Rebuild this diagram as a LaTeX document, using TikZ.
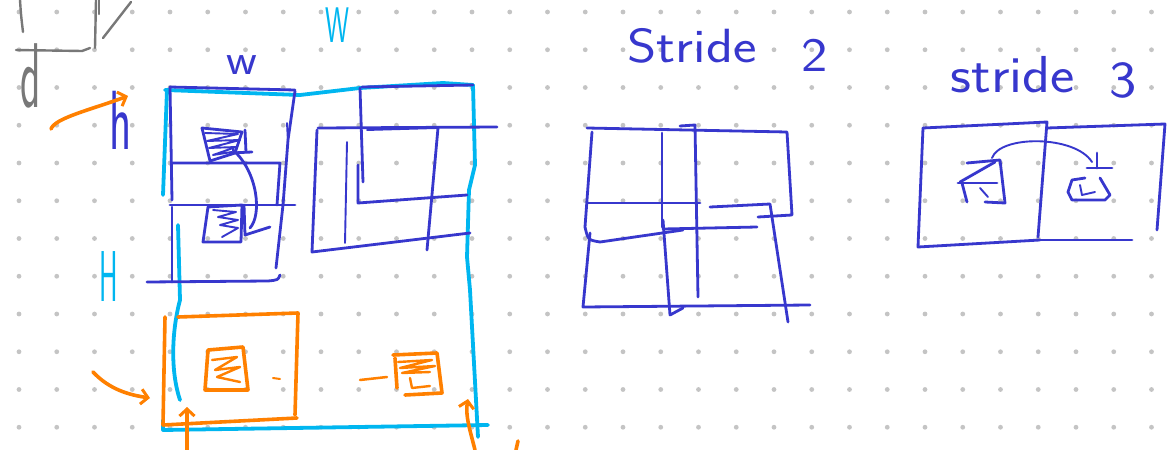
\documentclass[tikz,border=0pt]{standalone}
\usetikzlibrary{arrows.meta}
\definecolor{bl}{RGB}{55,55,205}
\definecolor{cy}{RGB}{0,182,240}
\definecolor{orc}{RGB}{255,128,0}
\definecolor{grc}{RGB}{120,120,120}
\definecolor{dotc}{RGB}{196,196,196}
\begin{document}
\begin{tikzpicture}[x=1pt,y=-1pt,
  blu/.style={draw=bl,line width=2.8pt,line cap=round,line join=round},
  thinb/.style={draw=bl,line width=1.9pt,line cap=round,line join=round},
  cyl/.style={draw=cy,line width=3.8pt,line cap=round,line join=round},
  orl/.style={draw=orc,line width=3.6pt,line cap=round,line join=round},
  grl/.style={draw=grc,line width=2.4pt,line cap=round,line join=round},
  hand/.style={font=\sffamily\fontsize{20}{20}\selectfont,inner sep=0pt},
  arr/.style={-{Straight Barb[length=7pt,width=15pt,line width=3pt]}}
]
\path[use as bounding box,fill=white] (0,0) rectangle (1176,450);
% dot grid
\foreach \i in {0,...,30}{
  \foreach \j in {0,...,11}{
    \fill[dotc] ({19+37.75*\i},{12+37.75*\j}) circle (2.4pt);
  }
}
% ---------------- gray cube sketch
\draw[grl] (20,0) .. controls (21,15) .. (23,32);
\draw[grl] (16,50) -- (82,51) -- (90,48);
\draw[grl] (96,0) -- (95,48);
\draw[grl] (99,0) -- (99,14);
\draw[grl] (103,38) -- (131,2);
\node[hand,text=grc,xscale=2.1,yscale=4.6] (dlab) at (31,76) {d};
% ---------------- labels
\node[hand,text=cy,xscale=1.35,yscale=2.5] (Wlab) at (337,25) {W};
\node[hand,text=cy,xscale=1.4,yscale=3.6] (Hlab) at (109,277) {H};
\node[hand,text=bl,xscale=2.4,yscale=2.2] (wlab) at (242,65) {w};
\node[hand,text=bl,xscale=2.3,yscale=4.2] (hlab) at (121,120) {h};
\node[hand,text=bl,anchor=west,xscale=2.8,yscale=2.4] (s2lab) at (627,50) {Stride\hspace{16pt}\raisebox{-3.5pt}{2}};
\node[hand,text=bl,anchor=west,xscale=2.9,yscale=2.6] (s3lab) at (950,77) {stride\hspace{12pt}\raisebox{-2pt}{3}};
% ---------------- cyan input square
\draw[cyl] (165,90) -- (300,95) -- (360,88) -- (443,83) -- (473,85);
\draw[cyl] (167,90) -- (163,195);
\draw[cyl] (178,225) -- (180,300) .. controls (172,330) and (170,370) .. (180,400);
\draw[cyl] (163,420) -- (163,430) -- (488,425);
\draw[cyl] (473,85) -- (475,165) -- (469,190) -- (467,257) -- (470,290) -- (476,400) -- (478,437);
% ---------------- blue left column
\draw[blu] (170,87) -- (295,90);
\draw[blu] (170,87) -- (172,200);
\draw[blu] (295,91) -- (288,140) -- (283,205) -- (276,268);
\draw[thinb] (287,123) -- (288,142);
\draw[blu] (172,163) -- (280,163) -- (277,205);
\draw[blu] (170,205) -- (295,205);
\draw[blu] (172,207) -- (172,282);
\draw[blu] (147,282) -- (268,281) .. controls (278,280) .. (280,275);
% upper hatched patch
\draw[blu] (202,128) -- (242,132) -- (235,153) -- (210,161) -- cycle;
\draw[thinb] (205,133) -- (238,134) -- (207,141) -- (240,140) -- (209,148) -- (236,147) -- (213,155) -- (232,152);
\draw[blu] (245,130) -- (246,152);
\draw[blu] (230,153) -- (252,152);
% lower hatched patch
\draw[blu] (208,207) -- (242,205) -- (241,242) -- (203,242) -- cycle;
\draw[thinb] (213,210) -- (236,212) -- (218,217) -- (238,220) -- (220,225) -- (238,228) -- (222,237);
\draw[blu] (244,205) -- (245,235) -- (270,227);
\draw[blu] (233,150) .. controls (258,172) and (262,215) .. (250,228);
% ---------------- blue boxes on the right of the square
\draw[blu] (362,87) -- (473,85);
\draw[blu] (360,88) -- (363,182);
\draw[blu] (358,165) -- (358,203) -- (467,195);
\draw[blu] (318,128) -- (497,127);
\draw[thinb] (367,130) -- (437,128);
\draw[blu] (317,130) -- (312,252) -- (470,233);
\draw[blu] (438,128) -- (427,250);
\draw[thinb] (347,142) -- (345,243);
% ---------------- orange
\draw[orl] (165,317) -- (163,425) -- (297,418);
\draw[orl] (178,317) -- (298,313) -- (295,415);
\draw[orl] (208,350) -- (243,347) -- (248,390) -- (205,390) -- cycle;
\draw[orl,line width=2.4pt] (212,360) -- (237,357) -- (215,370) -- (240,367) -- (217,377) -- (240,382);
\draw[orl,line width=2pt] (273,378) -- (280,379);
\draw[orl,line width=2.5pt] (360,380) -- (387,377);
\draw[orl] (395,358) -- (397,388);
\draw[orl] (393,355) -- (437,353) -- (442,393) -- (405,395);
\draw[orl,line width=2.4pt] (398,362) -- (432,360) -- (400,368) -- (435,366) -- (402,373) -- (430,372);
\draw[orl,line width=2.4pt] (410,378) -- (412,388) -- (430,386);
\coordinate (a1s) at (51,129);  \coordinate (a1e) at (128,96);
\coordinate (a2s) at (93,372);  \coordinate (a2e) at (150,398);
\coordinate (a3s) at (187,450); \coordinate (a3e) at (187,407);
\coordinate (a4s) at (475,450); \coordinate (a4e) at (468,399);
\draw[orl,arr] (a1s) .. controls (55,118) and (90,110) .. (a1e);
\draw[orl,arr] (a2s) .. controls (110,390) and (130,395) .. (a2e);
\draw[orl,arr] (a3s) -- (a3e);
\draw[orl,arr] (a4s) .. controls (470,430) and (465,415) .. (a4e);
\draw[orl] (518,441) -- (516,450);
% ---------------- stride 2 grid
\draw[blu] (587,128) -- (787,132) -- (792,215) -- (758,217);
\draw[blu] (592,132) -- (585,227) .. controls (588,240) .. (600,242) -- (683,230);
\draw[blu] (662,133) -- (662,227);
\draw[blu] (680,126) -- (695,125) -- (698,297);
\draw[blu] (588,203) -- (700,203);
\draw[blu] (710,207) -- (770,204) -- (788,322);
\draw[blu] (663,229) -- (757,227);
\draw[blu] (590,233) -- (583,307) -- (810,305);
\draw[blu] (663,220) -- (670,315) -- (683,308);
% ---------------- stride 3
\draw[blu] (923,128) -- (1047,122) -- (1038,237);
\draw[blu] (923,128) -- (918,247) -- (1040,240);
\draw[blu] (1047,128) -- (1165,124) -- (1157,230);
\draw[blu] (1040,240) -- (1132,240);
% left patch
\draw[blu] (967,163) -- (1000,160) -- (1005,203) -- (985,202);
\draw[blu] (960,182) -- (995,162);
\draw[blu] (958,183) -- (997,183);
\draw[blu] (962,183) -- (967,202);
\draw[thinb] (980,188) -- (988,197);
% right patch
\draw[blu] (1085,178) -- (1072,180) -- (1068,192) -- (1072,200) -- (1105,200) -- (1110,195) -- (1100,178);
\draw[thinb] (1080,185) -- (1082,195) -- (1095,192);
\draw[blu] (1097,153) -- (1097,168);
\draw[blu] (1087,168) -- (1112,168);
\draw[thinb] (992,158) .. controls (1000,135) and (1075,135) .. (1092,162);
\end{tikzpicture}
\end{document}
